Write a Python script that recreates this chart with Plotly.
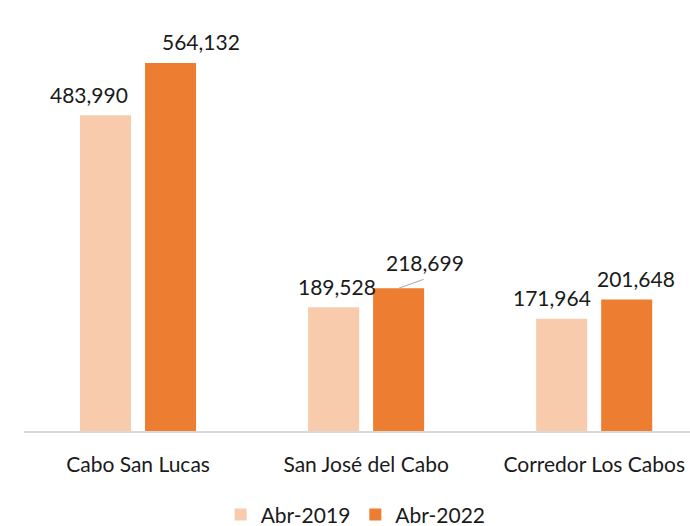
import plotly.graph_objects as go

categories = ["Cabo San Lucas", "San José del Cabo", "Corredor Los Cabos"]
series_names = ["Abr-2019", "Abr-2022"]
values_2019 = [483990, 189528, 171964]
values_2022 = [564132, 218699, 201648]

colors = ["#F8CBAD", "#ED7D31"]
FONT = "Lato"
FS = 21
BAR_OFFSET = 0.1425   # half slot width in category units
X_RANGE = [-0.5, 2.42]
Y_RANGE = [0, 630000]
PLOT_W = 690 - 24
PLOT_H = 526 - 20 - 95
PX_X = PLOT_W / (X_RANGE[1] - X_RANGE[0])   # px per category unit
PX_Y = PLOT_H / (Y_RANGE[1] - Y_RANGE[0])   # px per value unit

# label pixel shifts for each series/category, purely cosmetic
label_xshift = {0: [-17, 3, -10], 1: [30, 26, 9]}
label_yshift = {0: [21, 21, 21], 1: [21, 26, 21]}

x_idx = list(range(len(categories)))

fig = go.Figure()
for i, (name, vals) in enumerate(zip(series_names, [values_2019, values_2022])):
    fig.add_trace(go.Bar(
        x=x_idx, y=vals, name=name,
        marker=dict(color=colors[i], line=dict(width=0)),
        hoverinfo="skip",
    ))

annotations = []
shapes = []
for i, vals in enumerate([values_2019, values_2022]):
    sign = -1 if i == 0 else 1
    for j, v in enumerate(vals):
        bx = x_idx[j] + sign * BAR_OFFSET
        annotations.append(dict(
            x=bx, y=v, xref="x", yref="y", text=f"{v:,}", showarrow=False,
            xshift=label_xshift[i][j], yshift=label_yshift[i][j], yanchor="middle",
            font=dict(family=FONT, size=FS, color="#1a1a1a"),
        ))
        if i == 1 and j == 1:
            # leader line from bar top to its label
            shapes.append(dict(
                type="line", xref="x", yref="y",
                x0=bx, y0=v, x1=bx + 25 / PX_X, y1=v + 9 / PX_Y,
                line=dict(color="#A6A6A6", width=1),
            ))

fig.update_layout(
    width=690, height=526,
    margin=dict(l=24, r=0, t=20, b=95, autoexpand=False),
    paper_bgcolor="white", plot_bgcolor="white",
    barmode="group", bargap=0.43, bargroupgap=0.215,
    font=dict(family=FONT, size=FS, color="#1a1a1a"),
    showlegend=True,
    legend=dict(orientation="h", x=0.498, xanchor="center", y=-0.204, yanchor="middle",
                font=dict(family=FONT, size=FS, color="#1a1a1a"),
                itemwidth=30, traceorder="normal"),
    annotations=annotations,
    shapes=shapes,
)
fig.update_xaxes(
    tickvals=x_idx, ticktext=categories, range=X_RANGE,
    showline=True, linecolor="#D9D9D9", linewidth=1.5,
    ticks="", showgrid=False, zeroline=False, ticklabelstandoff=14,
    tickfont=dict(family=FONT, size=FS, color="#1a1a1a"),
    automargin=False,
)
fig.update_yaxes(range=Y_RANGE, visible=False, showgrid=False, zeroline=False)

fig.write_html(
    "out.html",
    config={"displayModeBar": False},
    post_script="document.body.style.margin='0';document.body.style.overflow='hidden';",
)
